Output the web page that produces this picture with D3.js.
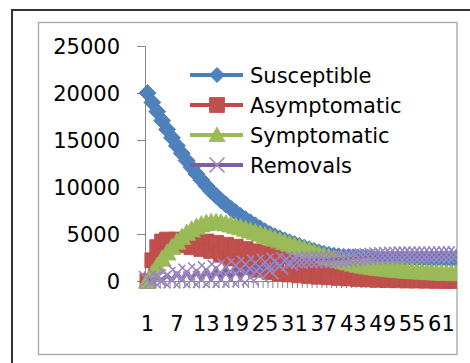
<!DOCTYPE html>
<html>
<head>
<meta charset="utf-8">
<script src="https://cdn.jsdelivr.net/npm/d3@7"></script>
<style>
  body { margin: 0; background: #fff; }
  svg { display: block; background: #fff; }
</style>
</head>
<body>
<svg class="chart" width="470" height="363"></svg>
<script>
// data
const categories = [
  1, 2, 3, 4, 5, 6, 7, 8, 9, 10, 11, 12, 13, 14, 15, 16,
  17, 18, 19, 20, 21, 22, 23, 24, 25, 26, 27, 28, 29, 30, 31, 32,
  33, 34, 35, 36, 37, 38, 39, 40, 41, 42, 43, 44, 45, 46, 47, 48,
  49, 50, 51, 52, 53, 54, 55, 56, 57, 58, 59, 60, 61, 62, 63, 64
];
const xTickLabels = [1, 7, 13, 19, 25, 31, 37, 43, 49, 55, 61];
const yTicks = [0, 5000, 10000, 15000, 20000, 25000];

const susceptible = [
  20000, 19000, 18020, 17060, 16130, 15240, 14390, 13580, 12810, 12080, 11390, 10740, 10130, 9560, 9060, 8590,
  8140, 7720, 7320, 6930, 6580, 6250, 5920, 5600, 5290, 5000, 4760, 4540, 4330, 4130, 3930, 3740,
  3560, 3380, 3210, 3050, 2910, 2790, 2700, 2630, 2580, 2540, 2520, 2500, 2490, 2470, 2460, 2450,
  2440, 2430, 2425, 2420, 2415, 2410, 2405, 2400, 2398, 2395, 2392, 2390, 2388, 2385, 2382, 2380
];
const asymptomatic = [
  0, 2200, 3600, 4200, 4400, 4000, 4400, 3800, 4350, 3600, 4300, 3400, 4200, 3200, 4050, 2800,
  3850, 2400, 3650, 2000, 3400, 1500, 3150, 1200, 2950, 950, 2800, 800, 2650, 700, 2500, 600,
  2350, 520, 2150, 460, 1950, 400, 1700, 340, 1450, 280, 1200, 220, 950, 170, 750, 130,
  550, 100, 400, 80, 280, 60, 190, 50, 130, 40, 90, 30, 60, 25, 40, 20
];
const symptomatic = [
  0, 800, 1600, 2350, 3000, 3600, 4150, 4650, 5100, 5450, 5750, 6000, 6150, 6250, 6250, 6200,
  6100, 5980, 5840, 5690, 5530, 5360, 5190, 5020, 4840, 4660, 4480, 4300, 4120, 3940, 3760, 3580,
  3400, 3220, 3040, 2860, 2690, 2520, 2360, 2210, 2070, 1940, 1820, 1710, 1610, 1520, 1440, 1370,
  1310, 1250, 1200, 1150, 1110, 1070, 1030, 1000, 970, 940, 910, 880, 860, 840, 820, 800
];
const removals = [
  150, 100, 350, 100, 600, 100, 800, 120, 950, 120, 1080, 150, 1200, 150, 1350, 180,
  1500, 200, 1650, 250, 1780, 400, 1900, 700, 2000, 1100, 2100, 1600, 2170, 2000, 2220, 2200,
  2250, 2260, 2270, 2280, 2290, 2300, 2310, 2330, 2360, 2400, 2450, 2500, 2550, 2600, 2640, 2670,
  2700, 2720, 2740, 2750, 2760, 2770, 2770, 2775, 2775, 2780, 2780, 2780, 2785, 2785, 2790, 2790
];

const seriesNames = ["Susceptible", "Asymptomatic", "Symptomatic", "Removals"];
const seriesValues = [susceptible, asymptomatic, symptomatic, removals];
const lineColors = ["#4a7ebb", "#be4b48", "#98b954", "#7d60a0"];
const markerColors = ["#4f81bd", "#c0504d", "#9bbb59", "#9c88c2"];
const markerTypes = ["diamond", "square", "triangle", "cross"];

class Chart {
    constructor(selector) {
        this.svg = d3.select(selector);

        // config
        this.plotLeft = 145;
        this.step = 4.9;
        this.clipRight = 457;
        this.yBottom = 281;
        this.yTop = 46;
        this.font = "DejaVu Sans";
        this.fontSize = 21;

        this.setup();
    }

    setup() {
        this.x = d3.scaleBand()
            .domain(categories)
            .range([this.plotLeft, this.plotLeft + categories.length * this.step])
            .padding(0);

        this.y = d3.scaleLinear()
            .domain([0, 25000])
            .range([this.yBottom, this.yTop]);

        const defs = this.svg.append("defs");
        defs.append("clipPath")
            .attr("id", "plot-clip")
            .append("rect")
            .attr("x", 0).attr("y", 0)
            .attr("width", this.clipRight).attr("height", 363);

        // the source picture is a scaled-up screenshot, so soften the marks a bit
        defs.append("filter")
            .attr("id", "soft")
            .attr("x", "-5%").attr("y", "-5%")
            .attr("width", "110%").attr("height", "110%")
            .append("feGaussianBlur")
            .attr("stdDeviation", 0.55);
    }

    cx(c) {
        return this.x(c) + this.x.bandwidth() / 2;
    }

    markerPath(type, big) {
        const s = big ? 1.12 : 1;
        switch (type) {
            case "diamond": return `M0,${-7.6 * s}L${7.6 * s},0L0,${7.6 * s}L${-7.6 * s},0Z`;
            case "square": return "M-7.5,-7.5H7.5V7.5H-7.5Z";
            case "triangle": return `M0,${-8 * s}L${8 * s},${6.5 * s}L${-8 * s},${6.5 * s}Z`;
            default: return `M${-7.5 * s},${-7.5 * s}L${7.5 * s},${7.5 * s}M${7.5 * s},${-7.5 * s}L${-7.5 * s},${7.5 * s}`;
        }
    }

    styleMarker(sel, i) {
        if (markerTypes[i] === "cross") {
            sel.attr("fill", "none").attr("stroke", markerColors[i]).attr("stroke-width", 1.6);
        } else {
            sel.attr("fill", markerColors[i]).attr("stroke", lineColors[i]).attr("stroke-width", 0.8);
        }
    }

    drawFrame() {
        // outer frame of the document and chart border
        this.svg.append("path")
            .attr("d", "M12,363V10H470")
            .attr("fill", "none")
            .attr("stroke", "#333")
            .attr("stroke-width", 2);

        this.svg.append("rect")
            .attr("x", 38.5).attr("y", 22.5)
            .attr("width", 418.5).attr("height", 332)
            .attr("fill", "none")
            .attr("stroke", "#a6a6a6")
            .attr("stroke-width", 1.3);
    }

    drawAxes() {
        const yAxis = d3.axisLeft(this.y)
            .tickValues(yTicks)
            .tickSize(8)
            .tickSizeOuter(0)
            .tickPadding(17)
            .tickFormat(d3.format("d"));

        const gy = this.svg.append("g")
            .attr("class", "y-axis")
            .attr("transform", this.translate(this.plotLeft, 0))
            .call(yAxis);
        gy.selectAll("path, line").attr("stroke", "#868686");
        gy.selectAll("text")
            .attr("dy", "0.38em")
            .attr("fill", "#000")
            .attr("font-family", this.font)
            .attr("font-size", this.fontSize);

        // category tick marks between the categories
        const xLin = d3.scaleLinear()
            .domain([0, categories.length])
            .range([this.plotLeft, this.plotLeft + categories.length * this.step]);
        const marks = this.svg.append("g")
            .attr("clip-path", "url(#plot-clip)")
            .attr("transform", this.translate(0, this.yBottom))
            .call(d3.axisBottom(xLin)
                .tickValues(d3.range(0, categories.length + 1))
                .tickSize(7)
                .tickSizeOuter(0)
                .tickFormat(""));
        marks.selectAll("path, line").attr("stroke", "#868686");

        // labels every sixth category
        const gx = this.svg.append("g")
            .attr("class", "x-axis")
            .attr("transform", this.translate(0, this.yBottom))
            .call(d3.axisBottom(this.x)
                .tickValues(xTickLabels)
                .tickSize(0)
                .tickPadding(35.5));
        gx.select(".domain").remove();
        gx.selectAll("text")
            .attr("fill", "#000")
            .attr("font-family", this.font)
            .attr("font-size", this.fontSize);
    }

    drawSeries() {
        const plot = this.svg.append("g")
            .attr("clip-path", "url(#plot-clip)")
            .append("g")
            .attr("filter", "url(#soft)");
        const line = d3.line()
            .x((v, k) => this.cx(categories[k]))
            .y(v => this.y(v));

        seriesValues.forEach((values, i) => {
            const g = plot.append("g").attr("class", "series");

            g.append("path")
                .attr("d", line(values))
                .attr("fill", "none")
                .attr("stroke", lineColors[i])
                .attr("stroke-width", 4)
                .attr("stroke-linejoin", "round");

            const m = g.selectAll("path.marker")
                .data(values)
                .join("path")
                .attr("class", "marker")
                .attr("d", this.markerPath(markerTypes[i], true))
                .attr("transform", (v, k) => this.translate(this.cx(categories[k]), this.y(v)));
            this.styleMarker(m, i);
        });
    }

    drawLegend() {
        const legend = this.svg.append("g")
            .attr("class", "legend")
            .attr("transform", this.translate(190, 75));

        const rows = legend.selectAll("g.row")
            .data(seriesNames)
            .join("g")
            .attr("class", "row")
            .attr("transform", (d, i) => this.translate(0, i * 30));

        rows.append("line")
            .attr("x1", 0).attr("x2", 53)
            .attr("stroke", (d, i) => lineColors[i])
            .attr("stroke-width", 4);

        rows.each((d, i, nodes) => {
            const m = d3.select(nodes[i]).append("path")
                .attr("d", this.markerPath(markerTypes[i], false))
                .attr("transform", this.translate(27, 0));
            this.styleMarker(m, i);
        });

        rows.append("text")
            .attr("x", 60)
            .attr("y", 7.5)
            .attr("fill", "#000")
            .attr("font-family", this.font)
            .attr("font-size", this.fontSize)
            .text(d => d);
    }

    translate(x, y) {
        return `translate(${x}, ${y})`;
    }

    render() {
        this.drawFrame();
        this.drawAxes();
        this.drawSeries();
        this.drawLegend();
    }
}

const chart = new Chart("svg.chart");
chart.render();
</script>
</body>
</html>
